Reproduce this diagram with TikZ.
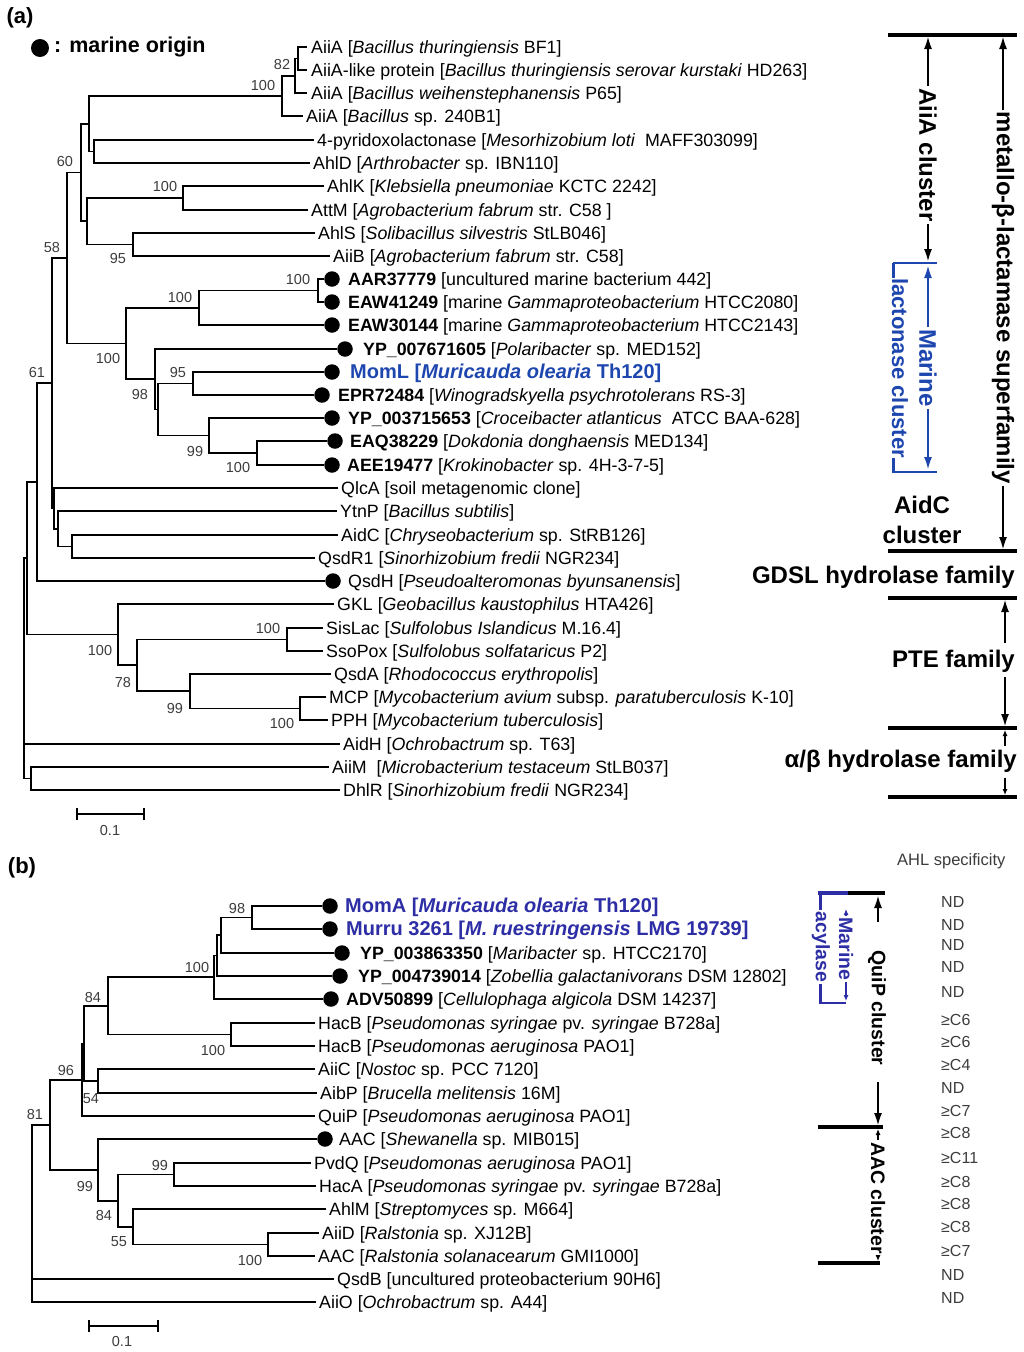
\documentclass[tikz,border=0pt]{standalone}
\usepackage{fontspec}
\setmainfont{Liberation Sans}
\usetikzlibrary{arrows.meta}
\definecolor{blueA}{RGB}{30,70,175}
\definecolor{blueB}{RGB}{45,45,165}
\definecolor{greyT}{RGB}{60,60,60}
\newcommand\lfs{\fontsize{17.8}{20}\selectfont}
\newcommand\bsf{\fontsize{14.5}{16}\selectfont}
\newcommand\annf{\fontsize{24}{28}\selectfont\bfseries}
\newcommand\annb{\fontsize{19.5}{22}\selectfont\bfseries}
\newcommand\bluef{\fontsize{20}{22}\selectfont\bfseries}
\begin{document}
\begin{tikzpicture}[x=1pt,y=-1pt,
 tr/.style={line width=1.9pt},
 lf/.style={anchor=west, inner sep=0pt, font=\lfs, text height=13pt, text depth=1pt},
 blfa/.style={lf, font=\bluef, text=blueA},
 blfb/.style={lf, font=\bluef, text=blueB},
 dotn/.style={circle, fill=black, inner sep=0pt, minimum size=15.5pt},
 bs/.style={inner sep=0pt, font=\bsf, text=greyT},
 bar/.style={line width=3.5pt},
 arr/.style={line width=1.1pt, -{Latex[length=12pt,width=8pt]}},
 sarr/.style={line width=1.1pt, -{Latex[length=6pt,width=5pt]}},
 ann/.style={font=\annf, inner sep=2pt},
 annB/.style={font=\annb, inner sep=2pt},
 ndt/.style={anchor=west, inner sep=0pt, font=\fontsize{16}{18}\selectfont, text=greyT}
]
\useasboundingbox (0,0) rectangle (1024,1352);

% ================= panel (a) =================
\node[font=\fontsize{22}{24}\selectfont\bfseries, inner sep=0pt] (pa) at (20,18) {(a)};
\node[dotn, minimum size=18pt] (legdot) at (40,48) {};
\node[anchor=west, inner sep=0pt, font=\fontsize{21.5}{24}\selectfont\bfseries] (legtxt) at (54,47) {: marine origin};

% leaves
\node[lf] (a1) at (311,47) {AiiA [\textit{Bacillus thuringiensis} BF1]};
\node[lf] (a2) at (311,70) {AiiA-like protein [\textit{Bacillus thuringiensis serovar kurstaki} HD263]};
\node[lf] (a3) at (311,93) {AiiA [\textit{Bacillus weihenstephanensis} P65]};
\node[lf] (a4) at (306,116) {AiiA [\textit{Bacillus} sp. 240B1]};
\node[lf] (a5) at (317,140) {4-pyridoxolactonase [\textit{Mesorhizobium loti}\ \ MAFF303099]};
\node[lf] (a6) at (313,163) {AhlD [\textit{Arthrobacter} sp. IBN110]};
\node[lf] (a7) at (327,186) {AhlK [\textit{Klebsiella pneumoniae} KCTC 2242]};
\node[lf] (a8) at (311,210) {AttM [\textit{Agrobacterium fabrum} str. C58 ]};
\node[lf] (a9) at (318,233) {AhlS [\textit{Solibacillus silvestris} StLB046]};
\node[lf] (a10) at (333,256) {AiiB [\textit{Agrobacterium fabrum} str. C58]};
\node[dotn] (d11) at (332,279) {};
\node[lf] (a11) at (348,279) {\textbf{AAR37779} [uncultured marine bacterium 442]};
\node[dotn] (d12) at (332,302) {};
\node[lf] (a12) at (348,302) {\textbf{EAW41249} [marine \textit{Gammaproteobacterium} HTCC2080]};
\node[dotn] (d13) at (332,325) {};
\node[lf] (a13) at (348,325) {\textbf{EAW30144} [marine \textit{Gammaproteobacterium} HTCC2143]};
\node[dotn] (d14) at (345,349) {};
\node[lf] (a14) at (363,349) {\textbf{YP\_007671605} [\textit{Polaribacter} sp. MED152]};
\node[dotn] (d15) at (332,372) {};
\node[blfa] (a15) at (350,372) {MomL [\textit{Muricauda olearia} Th120]};
\node[dotn] (d16) at (322,395) {};
\node[lf] (a16) at (338,395) {\textbf{EPR72484} [\textit{Winogradskyella psychrotolerans} RS-3]};
\node[dotn] (d17) at (332,418) {};
\node[lf] (a17) at (348,418) {\textbf{YP\_003715653} [\textit{Croceibacter atlanticus}\ \ ATCC BAA-628]};
\node[dotn] (d18) at (335,441) {};
\node[lf] (a18) at (350,441) {\textbf{EAQ38229} [\textit{Dokdonia donghaensis} MED134]};
\node[dotn] (d19) at (332,465) {};
\node[lf] (a19) at (347,465) {\textbf{AEE19477} [\textit{Krokinobacter} sp. 4H-3-7-5]};
\node[lf] (a20) at (341,488) {QlcA [soil metagenomic clone]};
\node[lf] (a21) at (340,511) {YtnP [\textit{Bacillus subtilis}]};
\node[lf] (a22) at (341,535) {AidC [\textit{Chryseobacterium} sp. StRB126]};
\node[lf] (a23) at (318,558) {QsdR1 [\textit{Sinorhizobium fredii} NGR234]};
\node[dotn] (d24) at (333,581) {};
\node[lf] (a24) at (348,581) {QsdH [\textit{Pseudoalteromonas byunsanensis}]};
\node[lf] (a25) at (337,604) {GKL [\textit{Geobacillus kaustophilus} HTA426]};
\node[lf] (a26) at (326,628) {SisLac [\textit{Sulfolobus Islandicus} M.16.4]};
\node[lf] (a27) at (326,651) {SsoPox [\textit{Sulfolobus solfataricus} P2]};
\node[lf] (a28) at (334,674) {QsdA [\textit{Rhodococcus erythropolis}]};
\node[lf] (a29) at (329,697) {MCP [\textit{Mycobacterium avium} subsp. \textit{paratuberculosis} K-10]};
\node[lf] (a30) at (331,720) {PPH [\textit{Mycobacterium tuberculosis}]};
\node[lf] (a31) at (343,744) {AidH [\textit{Ochrobactrum} sp. T63]};
\node[lf] (a32) at (332,767) {AiiM\ \ [\textit{Microbacterium testaceum} StLB037]};
\node[lf] (a33) at (343,790) {DhlR [\textit{Sinorhizobium fredii} NGR234]};

% internal nodes
\coordinate (n1) at (298,58.5);
\coordinate (n2) at (295,76);
\coordinate (n3) at (282,96);
\coordinate (n5) at (94,151.5);
\coordinate (n4) at (89,124);
\coordinate (n6) at (183,198);
\coordinate (n7) at (133,244.5);
\coordinate (n8) at (87,221);
\coordinate (n9) at (81,172.5);
\coordinate (n10) at (318,290.5);
\coordinate (n11) at (199,308);
\coordinate (n12) at (193,383.5);
\coordinate (n13) at (257,453);
\coordinate (n14) at (209,435.5);
\coordinate (n15) at (158,409.5);
\coordinate (n16) at (155,379);
\coordinate (n17) at (126,343.5);
\coordinate (n18) at (67,258);
\coordinate (n21) at (72,546.5);
\coordinate (n22) at (58,529);
\coordinate (n23) at (54,508.5);
\coordinate (n19) at (52,383);
\coordinate (n20) at (37,482);
\coordinate (p1) at (287,639.5);
\coordinate (p2) at (300,708.5);
\coordinate (p3) at (190,691);
\coordinate (p4) at (137,665);
\coordinate (p5) at (118,634.5);
\coordinate (n24) at (27,558);
\coordinate (n25) at (31,778.5);
\coordinate (ra) at (24,668);

\draw[tr] ([xshift=-4pt]a1.west) -| (n1) |- ([xshift=-4pt]a2.west);
\draw[tr] (n1) -| (n2) |- ([xshift=-4pt]a3.west);
\draw[tr] (n2) -| (n3) |- ([xshift=-3pt]a4.west);
\draw[tr] ([xshift=-3pt]a5.west) -| (n5) |- ([xshift=-3pt]a6.west);
\draw[tr] (n3) -| (n4) |- (n5);
\draw[tr] ([xshift=-3pt]a7.west) -| (n6) |- ([xshift=-3pt]a8.west);
\draw[tr] ([xshift=-3pt]a9.west) -| (n7) |- ([xshift=-3pt]a10.west);
\draw[tr] (n6) -| (n8) |- (n7);
\draw[tr] (n4) -| (n9) |- (n8);
\draw[tr] (d11.west) -| (n10) |- (d12.west);
\draw[tr] (n10) -| (n11) |- (d13.west);
\draw[tr] (d15.west) -| (n12) |- (d16.west);
\draw[tr] (d18.west) -| (n13) |- (d19.west);
\draw[tr] (d17.west) -| (n14) |- (n13);
\draw[tr] (n12) -| (n15) |- (n14);
\draw[tr] (d14.west) -| (n16) |- (n15);
\draw[tr] (n11) -| (n17) |- (n16);
\draw[tr] (n9) -| (n18) |- (n17);
\draw[tr] ([xshift=-3pt]a22.west) -| (n21) |- ([xshift=-3pt]a23.west);
\draw[tr] ([xshift=-3pt]a21.west) -| (n22) |- (n21);
\draw[tr] ([xshift=-3pt]a20.west) -| (n23) |- (n22);
\draw[tr] (n18) -| (n19) |- (n23);
\draw[tr] (n19) -| (n20) |- (d24.west);
\draw[tr] ([xshift=-3pt]a26.west) -| (p1) |- ([xshift=-3pt]a27.west);
\draw[tr] ([xshift=-3pt]a29.west) -| (p2) |- ([xshift=-3pt]a30.west);
\draw[tr] ([xshift=-3pt]a28.west) -| (p3) |- (p2);
\draw[tr] (p1) -| (p4) |- (p3);
\draw[tr] ([xshift=-3pt]a25.west) -| (p5) |- (p4);
\draw[tr] (n20) -| (n24) |- (p5);
\draw[tr] ([xshift=-3pt]a32.west) -| (n25) |- ([xshift=-3pt]a33.west);
\draw[tr] (n24) -| (ra) |- (n25);
\draw[tr] (ra |- a31) -- ([xshift=-3pt]a31.west);

% bootstrap (a)
\node[bs] (ba1) at (282,65) {82};
\node[bs] (ba2) at (263,86) {100};
\node[bs] (ba3) at (65,162) {60};
\node[bs] (ba4) at (165,187) {100};
\node[bs] (ba5) at (118,259) {95};
\node[bs] (ba6) at (52,248) {58};
\node[bs] (ba7) at (298,280) {100};
\node[bs] (ba8) at (180,298) {100};
\node[bs] (ba9) at (108,359) {100};
\node[bs] (ba10) at (37,373) {61};
\node[bs] (ba11) at (178,373) {95};
\node[bs] (ba12) at (140,395) {98};
\node[bs] (ba13) at (195,452) {99};
\node[bs] (ba14) at (238,468) {100};
\node[bs] (ba15) at (268,628) {100};
\node[bs] (ba16) at (100,650) {100};
\node[bs] (ba17) at (123,682) {78};
\node[bs] (ba18) at (175,708) {99};
\node[bs] (ba19) at (282,723) {100};

% scale bar (a)
\coordinate (sa1) at (77,814);
\coordinate (sa2) at (144,814);
\draw[tr] (sa1) -- (sa2);
\draw[tr] ([yshift=-6pt]sa1) -- ([yshift=6pt]sa1);
\draw[tr] ([yshift=-6pt]sa2) -- ([yshift=6pt]sa2);
\node[bs] (sal) at (110,830) {0.1};

% annotations (a)
\draw[bar] (888,35) -- (1017,35);
\draw[bar] (888,551) -- (1017,551);
\draw[bar] (888,598) -- (1017,598);
\draw[bar] (888,728) -- (1017,728);
\draw[bar] (888,797) -- (1017,797);

\node[ann, rotate=-90] (aiia) at (928,155) {AiiA cluster};
\draw[arr] (aiia.west) -- (928,37);
\draw[arr] (aiia.east) -- (928,261);

\draw[line width=3pt, blueA] (893,263) -- (893,278);
\draw[line width=3pt, blueA] (893,458) -- (893,473);
\draw[line width=2pt, blueA] (893,263) -- (937,263);
\draw[line width=2pt, blueA] (893,472) -- (937,472);
\node[ann, rotate=-90, text=blueA] (mar) at (928,368) {Marine};
\draw[arr, blueA] (mar.west) -- (928,266);
\draw[arr, blueA] (mar.east) -- (928,469);
\node[font=\fontsize{22}{24}\selectfont\bfseries, inner sep=1pt, rotate=-90, text=blueA] (lac) at (900,368) {lactonase cluster};

\node[ann] (aidc1) at (922,505) {AidC};
\node[ann] (aidc2) at (922,535) {cluster};

\node[ann, rotate=-90] (met) at (1003,298) {metallo-β-lactamase superfamily};
\draw[arr] (met.west) -- (1003,37);
\draw[arr] (met.east) -- (1003,549);

\node[ann, anchor=east] (gdsl) at (1017,577) {GDSL hydrolase family};
\node[ann, anchor=east] (pte) at (1017,661) {PTE family};
\draw[arr] (1005,643) -- (1005,600);
\draw[arr] (1005,677) -- (1005,726);
\node[ann, anchor=east] (ab) at (1019,761) {α/β hydrolase family};
\draw[sarr] (1005,746) -- (1005,730);
\draw[sarr] (1005,778) -- (1005,795);

% ================= panel (b) =================
\node[font=\fontsize{22}{24}\selectfont\bfseries, inner sep=0pt] (pb) at (22,868) {(b)};

\node[dotn] (e1) at (330,906) {};
\node[blfb] (b1) at (345,906) {MomA [\textit{Muricauda olearia} Th120]};
\node[dotn] (e2) at (330,929) {};
\node[blfb] (b2) at (346,929) {Murru 3261 [\textit{M. ruestringensis} LMG 19739]};
\node[dotn] (e3) at (342,953) {};
\node[lf] (b3) at (360,953) {\textbf{YP\_003863350} [\textit{Maribacter} sp. HTCC2170]};
\node[dotn] (e4) at (340,976) {};
\node[lf] (b4) at (358,976) {\textbf{YP\_004739014} [\textit{Zobellia galactanivorans} DSM 12802]};
\node[dotn] (e5) at (331,999) {};
\node[lf] (b5) at (346,999) {\textbf{ADV50899} [\textit{Cellulophaga algicola} DSM 14237]};
\node[lf] (b6) at (318,1023) {HacB [\textit{Pseudomonas syringae} pv. \textit{syringae} B728a]};
\node[lf] (b7) at (318,1046) {HacB [\textit{Pseudomonas aeruginosa} PAO1]};
\node[lf] (b8) at (318,1069) {AiiC [\textit{Nostoc} sp. PCC 7120]};
\node[lf] (b9) at (320,1093) {AibP [\textit{Brucella melitensis} 16M]};
\node[lf] (b10) at (318,1116) {QuiP [\textit{Pseudomonas aeruginosa} PAO1]};
\node[dotn] (e11) at (325,1139) {};
\node[lf] (b11) at (339,1139) {AAC [\textit{Shewanella} sp. MIB015]};
\node[lf] (b12) at (314,1163) {PvdQ [\textit{Pseudomonas aeruginosa} PAO1]};
\node[lf] (b13) at (319,1186) {HacA [\textit{Pseudomonas syringae} pv. \textit{syringae} B728a]};
\node[lf] (b14) at (329,1209) {AhlM [\textit{Streptomyces} sp. M664]};
\node[lf] (b15) at (322,1233) {AiiD [\textit{Ralstonia} sp. XJ12B]};
\node[lf] (b16) at (318,1256) {AAC [\textit{Ralstonia solanacearum} GMI1000]};
\node[lf] (b17) at (337,1279) {QsdB [uncultured proteobacterium 90H6]};
\node[lf] (b18) at (319,1302) {AiiO [\textit{Ochrobactrum} sp. A44]};

\coordinate (m1) at (252,917.5);
\coordinate (m2) at (221,935);
\coordinate (m3) at (217,955.5);
\coordinate (m4) at (214,977);
\coordinate (m5) at (231,1034.5);
\coordinate (m6) at (108,1006);
\coordinate (m7) at (98,1081);
\coordinate (m8a) at (84,1043.5);
\coordinate (m8) at (82,1080);
\coordinate (m9) at (174,1174.5);
\coordinate (m10) at (268,1244.5);
\coordinate (m11) at (133,1227);
\coordinate (m12) at (118,1201);
\coordinate (m13) at (98,1170);
\coordinate (m14) at (50,1125);
\coordinate (rb) at (32,1200);

\draw[tr] (e1.west) -| (m1) |- (e2.west);
\draw[tr] (m1) -| (m2) |- (e3.west);
\draw[tr] (m2) -| (m3) |- (e4.west);
\draw[tr] (m3) -| (m4) |- (e5.west);
\draw[tr] ([xshift=-3pt]b6.west) -| (m5) |- ([xshift=-3pt]b7.west);
\draw[tr] (m4) -| (m6) |- (m5);
\draw[tr] ([xshift=-3pt]b8.west) -| (m7) |- ([xshift=-3pt]b9.west);
\draw[tr] (m6) -| (m8a) |- (m7);
\draw[tr] (m8a) -| (m8) |- ([xshift=-3pt]b10.west);
\draw[tr] ([xshift=-3pt]b12.west) -| (m9) |- ([xshift=-3pt]b13.west);
\draw[tr] ([xshift=-3pt]b15.west) -| (m10) |- ([xshift=-3pt]b16.west);
\draw[tr] ([xshift=-3pt]b14.west) -| (m11) |- (m10);
\draw[tr] (m9) -| (m12) |- (m11);
\draw[tr] (e11.west) -| (m13) |- (m12);
\draw[tr] (m8) -| (m14) |- (m13);
\draw[tr] (m14) -| (rb) |- ([xshift=-3pt]b18.west);
\draw[tr] (rb |- b17) -- ([xshift=-3pt]b17.west);

\node[bs] (bb1) at (237,908) {98};
\node[bs] (bb2) at (197,967) {100};
\node[bs] (bb3) at (93,997) {84};
\node[bs] (bb4) at (213,1050) {100};
\node[bs] (bb5) at (66,1070) {96};
\node[bs] (bb6) at (91,1099) {54};
\node[bs] (bb7) at (35,1114) {81};
\node[bs] (bb8) at (160,1165) {99};
\node[bs] (bb9) at (85,1186) {99};
\node[bs] (bb10) at (104,1215) {84};
\node[bs] (bb11) at (119,1242) {55};
\node[bs] (bb12) at (250,1260) {100};

\coordinate (sb1) at (89,1326);
\coordinate (sb2) at (158,1326);
\draw[tr] (sb1) -- (sb2);
\draw[tr] ([yshift=-6pt]sb1) -- ([yshift=6pt]sb1);
\draw[tr] ([yshift=-6pt]sb2) -- ([yshift=6pt]sb2);
\node[bs] (sbl) at (122,1341) {0.1};

% annotations (b)
\node[anchor=west, inner sep=0pt, font=\fontsize{16.5}{18}\selectfont, text=greyT] (ahl) at (897,861) {AHL specificity};
\foreach \yy/\tt [count=\k] in {902/ND,925/ND,945/ND,967/ND,992/ND,1020/≥C6,1042/≥C6,1065/≥C4,1088/ND,1111/≥C7,1133/≥C8,1158/≥C11,1182/≥C8,1204/≥C8,1227/≥C8,1251/≥C7,1275/ND,1298/ND}
  \node[ndt] (nd\k) at (941,\yy) {\tt};

\draw[bar, blueB] (818,893) -- (848,893);
\draw[bar] (848,893) -- (885,893);
\draw[line width=3pt, blueB] (820,893) -- (820,910);
\draw[line width=3pt, blueB] (820,984) -- (820,1004);
\draw[line width=2pt, blueB] (820,1003) -- (846,1003);
\node[annB, inner sep=1pt, rotate=-90, text=blueB] (acy) at (821,947) {acylase};
\node[annB, inner sep=1pt, rotate=-90, text=blueB] (mar2) at (846,949) {Marine};
\draw[sarr, blueB] (mar2.west) -- (846,909);
\draw[sarr, blueB] (mar2.east) -- (846,1001);

\node[annB, rotate=-90] (quip) at (877,1008) {QuiP cluster};
\draw[arr] (878,922) -- (878,896);
\draw[arr] (878,1082) -- (878,1125);
\draw[bar] (818,1127) -- (883,1127);
\node[annB, rotate=-90] (aac) at (878,1198) {AAC cluster};
\draw[sarr] (aac.west) -- (878,1129);
\draw[sarr] (aac.east) -- (878,1261);
\draw[bar] (818,1263) -- (880,1263);
\end{tikzpicture}
\end{document}
